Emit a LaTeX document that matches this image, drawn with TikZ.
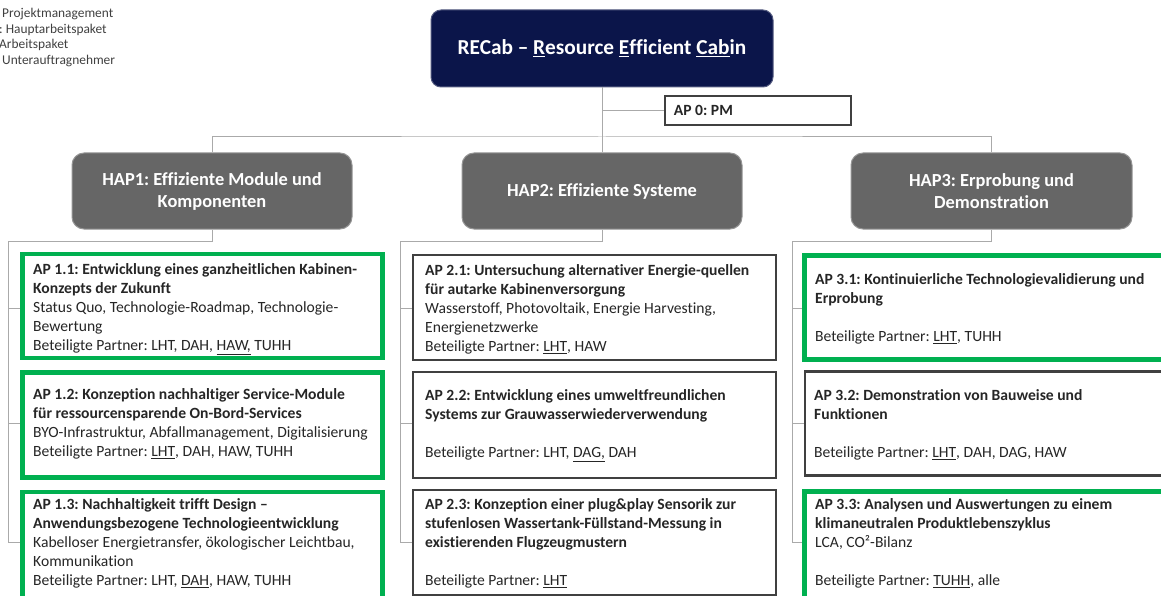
\documentclass[tikz,border=0pt]{standalone}
\usepackage{fontspec}
\setmainfont{Carlito}[Ligatures={NoCommon}]
\frenchspacing
\definecolor{navy}{RGB}{11,21,74}
\definecolor{hapgray}{RGB}{102,102,102}
\definecolor{hapborder}{RGB}{150,150,150}
\definecolor{apgreen}{RGB}{0,176,80}
\definecolor{apdark}{RGB}{64,64,64}
\definecolor{connc}{RGB}{170,170,170}
\definecolor{txt}{RGB}{38,38,38}
\definecolor{legtxt}{RGB}{64,64,64}
\begin{document}
\frenchspacing
\begin{tikzpicture}[x=1pt,y=-1pt,
  conn/.style={draw=connc, line width=1pt},
  boxg/.style={draw=apgreen, line width=4.5pt, fill=white, inner sep=0pt},
  boxd/.style={draw=apdark, line width=2.5pt, fill=white, inner sep=0pt},
  aptext/.style={anchor=base west, inner sep=0pt, align=left, text=txt, font=\fontsize{15.6}{19}\selectfont},
  hapbox/.style={fill=hapgray, draw=hapborder, line width=1pt, rounded corners=12pt, minimum width=280pt, minimum height=76pt, text=white, align=center, font=\bfseries\fontsize{18.4}{22}\selectfont},
  legend/.style={anchor=west, inner sep=0pt, text=legtxt, font=\fontsize{13.4}{15}\selectfont}
]
\useasboundingbox (0,0) rectangle (1161,596);
\clip (0,0) rectangle (1161,596);

% legend (cut off at the left edge)
\node[legend] (lg1) at (2,14) {Projektmanagement};
\node[legend] (lg2) at (-1,30) {: Hauptarbeitspaket};
\node[legend] (lg3) at (-1,45) {Arbeitspaket};
\node[legend] (lg4) at (2,61) {Unterauftragnehmer};

% top boxes
\node[fill=navy, draw=navy!70!white, line width=1pt, rounded corners=10pt, minimum width=342pt, minimum height=77pt, text=white, font=\bfseries\fontsize{21.3}{25}\selectfont] (recab) at (602,48.5)
  {RECab -- \underline{R}esource \underline{E}fficient \underline{Cab}in};
\node[draw=apdark, line width=2.5pt, fill=white, inner sep=0pt, minimum width=186pt, minimum height=29pt] (ap0) at (758,110.5) {};
\node[anchor=west, inner sep=0pt, text=txt, font=\bfseries\fontsize{15.6}{18}\selectfont] (ap0t) at ([xshift=10pt]ap0.west) {AP 0: PM};

\node[hapbox] (hap1) at (212,191) {HAP1: Effiziente Module und\\Komponenten};
\node[hapbox] (hap2) at (602,191) {HAP2: Effiziente Systeme};
\node[hapbox, minimum width=281pt] (hap3) at (991.5,191) {HAP3: Erprobung und\\Demonstration};

% AP boxes
\node[boxg, minimum width=360pt, minimum height=104pt] (ap11) at (202.5,306) {};
\node[boxg, minimum width=360pt, minimum height=105pt] (ap12) at (202.5,425) {};
\node[boxg, minimum width=360pt, minimum height=108pt] (ap13) at (202.5,546) {};
\node[boxd, minimum width=363pt, minimum height=105pt] (ap21) at (594.5,307.5) {};
\node[boxd, minimum width=363pt, minimum height=106pt] (ap22) at (594.5,425) {};
\node[boxd, minimum width=363pt, minimum height=105pt] (ap23) at (594.5,542.5) {};
\node[boxg, minimum width=370pt, minimum height=104pt] (ap31) at (989.5,307.5) {};
\node[boxd, minimum width=370pt, minimum height=104pt] (ap32) at (990,423.5) {};
\node[boxg, minimum width=370pt, minimum height=108pt] (ap33) at (989.5,545.5) {};

% connectors
\draw[conn] (recab.south) -- (hap2.north);
\coordinate (pmj) at (recab.south |- ap0.west);
\draw[conn] (pmj) -- (ap0.west);
\coordinate (bar) at (602,137);
\draw[conn] (hap1.north) |- (bar) -| (hap3.north);

\coordinate (c1top) at (8,241);
\coordinate (c1bot) at (8,542);
\coordinate (c1a) at (8,308);
\coordinate (c1b) at (8,423);
\draw[conn] (hap1.south) |- (c1top) -- (c1bot) -- (c1bot -| ap13.west);
\draw[conn] (c1a) -- (c1a -| ap11.west);
\draw[conn] (c1b) -- (c1b -| ap12.west);

\coordinate (c2top) at (400.5,241);
\coordinate (c2bot) at (400.5,542);
\coordinate (c2a) at (400.5,308);
\coordinate (c2b) at (400.5,423);
\draw[conn] (hap2.south) |- (c2top) -- (c2bot) -- (c2bot -| ap23.west);
\draw[conn] (c2a) -- (c2a -| ap21.west);
\draw[conn] (c2b) -- (c2b -| ap22.west);

\coordinate (c3top) at (792,241);
\coordinate (c3bot) at (792,542);
\coordinate (c3a) at (792,308);
\coordinate (c3b) at (792,423);
\draw[conn] (hap3.south) |- (c3top) -- (c3bot) -- (c3bot -| ap33.west);
\draw[conn] (c3a) -- (c3a -| ap31.west);
\draw[conn] (c3b) -- (c3b -| ap32.west);

% AP texts (anchored at the baseline of their last line)
\node[aptext] (t11) at (33,350.5) {\textbf{AP 1.1: Entwicklung eines ganzheitlichen Kabinen-}\\\textbf{Konzepts der Zukunft}\\Status Quo, Technologie-Roadmap, Technologie-\\Bewertung\\Beteiligte Partner: LHT, DAH, \underline{HAW,} TUHH};
\node[aptext] (t12) at (33,456.5) {\textbf{AP 1.2: Konzeption nachhaltiger Service-Module}\\\textbf{für ressourcensparende On-Bord-Services}\\BYO-Infrastruktur, Abfallmanagement, Digitalisierung\\Beteiligte Partner: \underline{LHT}, DAH, HAW, TUHH};
\node[aptext] (t13) at (33,585.5) {\textbf{AP 1.3: Nachhaltigkeit trifft Design --}\\\textbf{Anwendungsbezogene Technologieentwicklung}\\Kabelloser Energietransfer, ökologischer Leichtbau,\\Kommunikation\\Beteiligte Partner: LHT, \underline{DAH}, HAW, TUHH};

\node[aptext] (t21) at (425,351.5) {\textbf{AP 2.1: Untersuchung alternativer Energie-quellen}\\\textbf{für autarke Kabinenversorgung}\\Wasserstoff, Photovoltaik, Energie Harvesting,\\Energienetzwerke\\Beteiligte Partner: \underline{LHT}, HAW};
\node[aptext] (t22) at (425,457.5) {\textbf{AP 2.2: Entwicklung eines umweltfreundlichen}\\\textbf{Systems zur Grauwasserwiederverwendung}\\[19pt]Beteiligte Partner: LHT, \underline{DAG,} DAH};
\node[aptext] (t23) at (425,585.5) {\textbf{AP 2.3: Konzeption einer plug\&play Sensorik zur}\\\textbf{stufenlosen Wassertank-Füllstand-Messung in}\\\textbf{existierenden Flugzeugmustern}\\[19pt]Beteiligte Partner: \underline{LHT}};

\node[aptext] (t31) at (815,341.5) {\textbf{AP 3.1: Kontinuierliche Technologievalidierung und}\\\textbf{Erprobung}\\[19pt]Beteiligte Partner: \underline{LHT}, TUHH};
\node[aptext] (t32) at (814,457.5) {\textbf{AP 3.2: Demonstration von Bauweise und}\\\textbf{Funktionen}\\[19pt]Beteiligte Partner: \underline{LHT}, DAH, DAG, HAW};
\node[aptext] (t33) at (815,585.5) {\textbf{AP 3.3: Analysen und Auswertungen zu einem}\\\textbf{klimaneutralen Produktlebenszyklus}\\LCA, CO²-Bilanz\\[19pt]Beteiligte Partner: \underline{TUHH}, alle};
\end{tikzpicture}
\end{document}
